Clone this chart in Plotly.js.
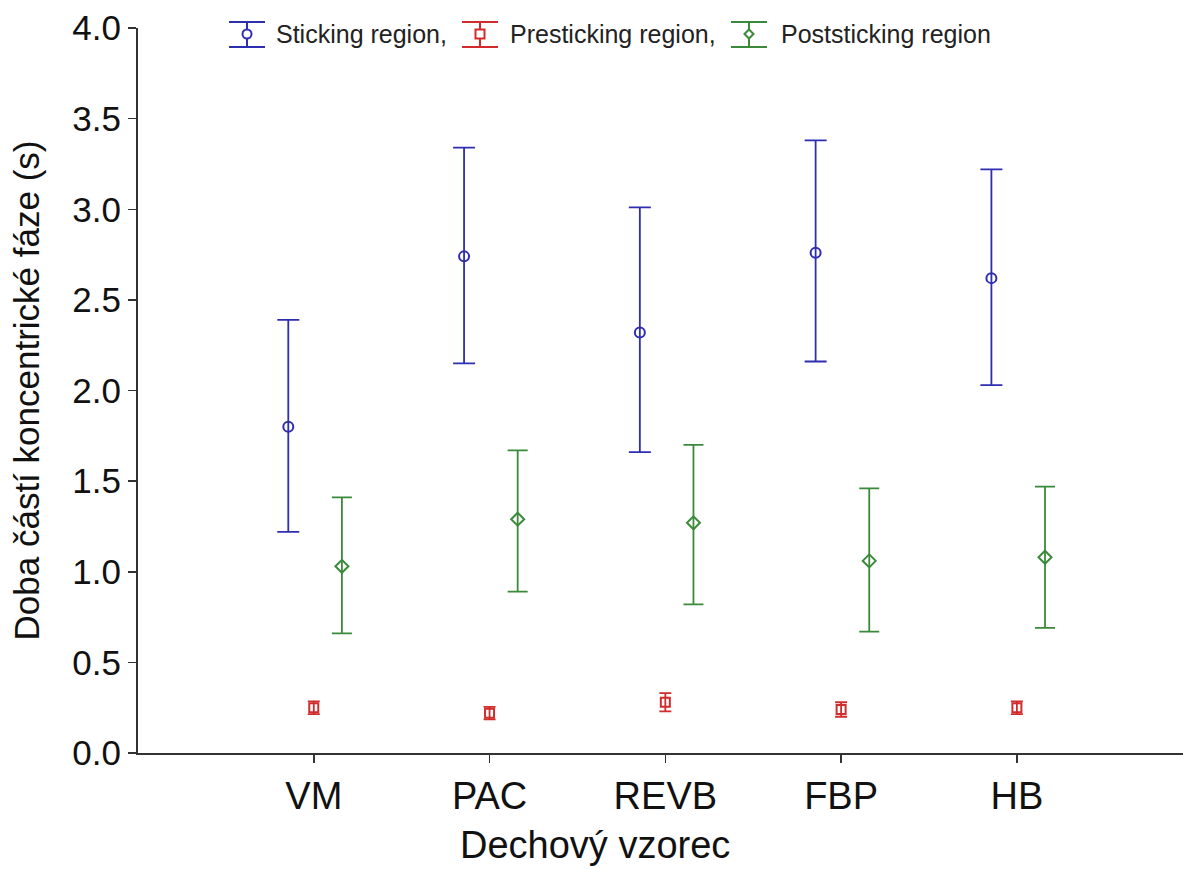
<!DOCTYPE html>
<html>
<head>
<meta charset="utf-8">
<script src="https://cdn.plot.ly/plotly-3.0.1.min.js"></script>
<style>
html,body{margin:0;padding:0;background:#fff;}
#chart{width:1183px;height:869px;}
</style>
</head>
<body>
<div id="chart"></div>
<script>
// ---- data ----
const categories = ['VM', 'PAC', 'REVB', 'FBP', 'HB'];

const stickingMean  = [1.80, 2.74, 2.32, 2.76, 2.62];
const stickingUpper = [2.39, 3.34, 3.01, 3.38, 3.22];
const stickingLower = [1.22, 2.15, 1.66, 2.16, 2.03];

const presticMean  = [0.25, 0.22, 0.28, 0.24, 0.25];
const presticUpper = [0.285, 0.255, 0.33, 0.28, 0.285];
const presticLower = [0.215, 0.185, 0.23, 0.20, 0.215];

const poststicMean  = [1.03, 1.29, 1.27, 1.06, 1.08];
const poststicUpper = [1.41, 1.67, 1.70, 1.46, 1.47];
const poststicLower = [0.66, 0.89, 0.82, 0.67, 0.69];

const seriesNames = ['Sticking region,', 'Presticking region,', 'Poststicking region'];
const yTicks = [0, 0.5, 1, 1.5, 2, 2.5, 3, 3.5, 4];

// ---- layout geometry ----
const W = 1183, H = 869;
const M = {l: 138, r: 0, t: 28, b: 116};
const PW = W - M.l - M.r, PH = H - M.t - M.b;
const px2x = px => (px - M.l) / PW;
const px2y = py => (H - M.b - py) / PH;

// ---- build traces ----
const idx = categories.map((_, i) => i);
function mk(name, mean, upper, lower, offset, color, symbol, msize, capw) {
  return {
    type: 'scatter', mode: 'markers', name: name,
    x: idx.map(i => i + offset),
    y: mean,
    marker: {symbol: symbol, size: msize, color: color, line: {color: color, width: 2}},
    error_y: {
      type: 'data', symmetric: false,
      array: upper.map((u, i) => u - mean[i]),
      arrayminus: lower.map((l, i) => mean[i] - l),
      color: color, thickness: 1.8, width: capw, visible: true
    },
    hoverinfo: 'y'
  };
}
const blue = '#2e2eb0', red = '#d22b2b', green = '#3b8a3b';
const colors = [blue, red, green];
const data = [
  mk(seriesNames[0], stickingMean, stickingUpper, stickingLower, -0.145, blue, 'circle-open', 10, 11),
  mk(seriesNames[1], presticMean, presticUpper, presticLower, 0, red, 'square-open', 9, 6),
  mk(seriesNames[2], poststicMean, poststicUpper, poststicLower, 0.16, green, 'diamond-open', 10, 10)
];

// ---- custom legend (error-bar icons + text) ----
const font = 'Liberation Sans, Arial, sans-serif';
const legIconCx = [247, 480, 749];
const legTextX = [274, 508, 779];
const legY = 34, capTop = 22, capBot = 47, capHalf = 18;
const shapes = [], annotations = [];
legIconCx.forEach((cx, k) => {
  const c = colors[k];
  const ln = {color: c, width: 2};
  shapes.push({type: 'line', xref: 'paper', yref: 'paper', x0: px2x(cx), x1: px2x(cx), y0: px2y(capTop), y1: px2y(capBot), line: ln});
  shapes.push({type: 'line', xref: 'paper', yref: 'paper', x0: px2x(cx - capHalf), x1: px2x(cx + capHalf), y0: px2y(capTop), y1: px2y(capTop), line: ln});
  shapes.push({type: 'line', xref: 'paper', yref: 'paper', x0: px2x(cx - capHalf), x1: px2x(cx + capHalf), y0: px2y(capBot), y1: px2y(capBot), line: ln});
  const r = 4.5;
  if (k === 0) {
    shapes.push({type: 'circle', xref: 'paper', yref: 'paper', x0: px2x(cx - r), x1: px2x(cx + r), y0: px2y(legY - r), y1: px2y(legY + r), line: ln, fillcolor: '#fff'});
  } else if (k === 1) {
    shapes.push({type: 'rect', xref: 'paper', yref: 'paper', x0: px2x(cx - r), x1: px2x(cx + r), y0: px2y(legY - r), y1: px2y(legY + r), line: ln, fillcolor: '#fff'});
  } else {
    const p = `M ${px2x(cx - r)} ${px2y(legY)} L ${px2x(cx)} ${px2y(legY - r)} L ${px2x(cx + r)} ${px2y(legY)} L ${px2x(cx)} ${px2y(legY + r)} Z`;
    shapes.push({type: 'path', xref: 'paper', yref: 'paper', path: p, line: ln, fillcolor: '#fff'});
  }
  annotations.push({
    text: seriesNames[k], xref: 'paper', yref: 'paper', x: px2x(legTextX[k]), y: px2y(legY),
    xanchor: 'left', yanchor: 'middle', showarrow: false,
    font: {family: font, size: 25, color: '#222'}
  });
});
annotations.push({
  text: 'Dechový vzorec', xref: 'paper', yref: 'paper',
  x: px2x(595), y: px2y(845), xanchor: 'center', yanchor: 'middle',
  showarrow: false, font: {family: font, size: 38, color: '#111'}
});

const layout = {
  width: W, height: H,
  margin: M,
  paper_bgcolor: '#fff', plot_bgcolor: '#fff',
  showlegend: false,
  xaxis: {
    range: [-1.0, 4.945],
    tickmode: 'array', tickvals: idx, ticktext: categories,
    showgrid: false, zeroline: false,
    showline: true, linecolor: '#333', linewidth: 2,
    ticks: 'outside', ticklen: 8, tickcolor: '#333', tickwidth: 1.5,
    tickfont: {family: font, size: 38, color: '#111'},
    fixedrange: true
  },
  yaxis: {
    range: [0, 4],
    tickmode: 'array', tickvals: yTicks, ticktext: yTicks.map(v => v.toFixed(1)),
    showgrid: false, zeroline: false,
    showline: true, linecolor: '#333', linewidth: 2,
    ticks: 'outside', ticklen: 8, tickcolor: '#333', tickwidth: 1.5,
    tickfont: {family: font, size: 35, color: '#111'},
    title: {text: 'Doba částí koncentrické fáze (s)', font: {family: font, size: 35, color: '#111'}, standoff: 22},
    automargin: false,
    fixedrange: true
  },
  shapes: shapes,
  annotations: annotations
};

Plotly.newPlot('chart', data, layout, {displayModeBar: false, staticPlot: true});
</script>
</body>
</html>
